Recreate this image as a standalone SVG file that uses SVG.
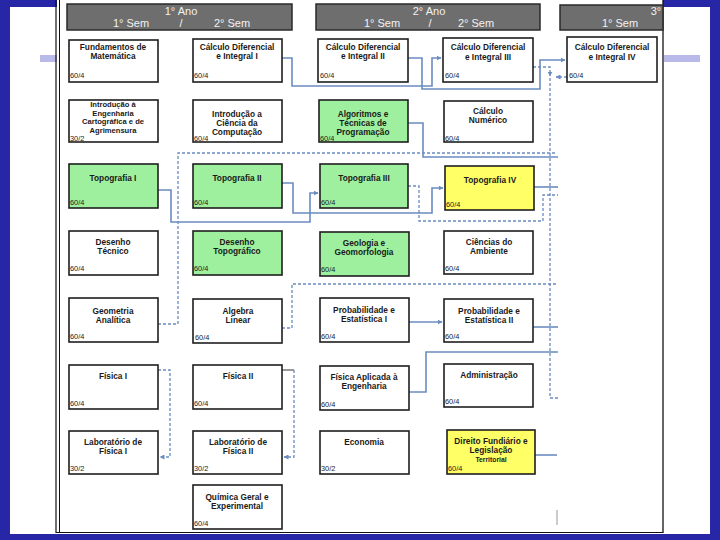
<svg xmlns="http://www.w3.org/2000/svg" width="720" height="540" viewBox="0 0 720 540">
<style>
.blue{fill:#2626a6}
.lav{fill:#b9b9ea}
.hdr rect{fill:#6e6e6e;stroke:#2a2a2a;stroke-width:1.5}
.hdr text{font-family:"Liberation Sans",Arial,sans-serif;font-size:11px;fill:#f2f2f2;text-anchor:middle}
.n rect{stroke:#1e1e1e;stroke-width:1.6}
.w{fill:#ffffff}
.g{fill:#9ef09e}
.y{fill:#ffff66}
.n text{font-family:"Liberation Sans",Arial,sans-serif;font-size:8.3px;font-weight:bold;fill:#1a1a1a;text-anchor:middle}
.n text.h{font-size:7.4px;font-weight:normal;text-anchor:start}
.n text.s{font-size:6.8px}
.n text.t{font-size:7.6px}
.c{fill:none;stroke:#6a8cc0;stroke-width:1.6}
.d{fill:none;stroke:#6a8cc0;stroke-width:1.3;stroke-dasharray:3 2}
</style>
<defs>
<marker id="ah" viewBox="0 0 10 10" refX="9" refY="5" markerWidth="5" markerHeight="5" orient="auto" markerUnits="userSpaceOnUse">
<path d="M0,0 L10,5 L0,10 z" fill="#6a8cc0"/>
</marker>
</defs>
<rect x="0" y="0" width="720" height="540" fill="#ffffff"/>
<g id="slide-frame">
<rect class="blue" x="0" y="0" width="57" height="7"/>
<rect class="blue" x="663" y="0" width="57" height="7"/>
<rect class="blue" x="0" y="0" width="10" height="540"/>
<rect class="blue" x="710" y="0" width="10" height="540"/>
<rect class="blue" x="0" y="534" width="720" height="6"/>
<rect class="lav" x="40" y="55" width="17" height="7"/>
<rect class="lav" x="664" y="55" width="36" height="7"/>
<rect x="57" y="0" width="606" height="533" fill="#ffffff"/>
<line x1="56" y1="0" x2="56" y2="533" stroke="#111" stroke-width="1.2"/>
<line x1="59.5" y1="0" x2="59.5" y2="533" stroke="#111" stroke-width="1"/>
<line x1="663" y1="0" x2="663" y2="533" stroke="#111" stroke-width="1.3"/>
<line x1="56" y1="532.5" x2="663" y2="532.5" stroke="#111" stroke-width="1"/>
</g>
<g id="hdr1" class="hdr">
<rect x="67" y="4" width="225" height="26"/>
<text x="181" y="15">1° Ano</text>
<text x="131" y="27">1° Sem</text>
<text x="181" y="27">/</text>
<text x="232" y="27">2° Sem</text>
</g>
<g id="hdr2" class="hdr">
<rect x="316" y="4" width="224" height="26"/>
<text x="429" y="15">2° Ano</text>
<text x="382" y="27">1° Sem</text>
<text x="430" y="27">/</text>
<text x="476" y="27">2° Sem</text>
</g>
<g id="hdr3" class="hdr">
<rect x="560" y="5" width="103" height="25"/>
<text x="656" y="15">3°</text>
<text x="620" y="27">1° Sem</text>
</g>
<g id="connectors">
<path class="c" d="M282,58 H292 V86 H432 V58 H441" marker-end="url(#ah)"/>
<path class="c" d="M408,58 H422 V89 H540 V60 H565" marker-end="url(#ah)"/>
<path class="c" d="M408,123 H423 V157 H558"/>
<path class="c" d="M158,190 H171 V222 H310 V193 H318" marker-end="url(#ah)"/>
<path class="c" d="M282,183 H293 V213 H432 V188 H443" marker-end="url(#ah)"/>
<path class="c" d="M534,187 H558"/>
<path class="c" d="M409,322 H442" marker-end="url(#ah)"/>
<path class="c" d="M533,327 H558"/>
<path class="c" d="M409,392 H426 V352 H558"/>
<path class="c" d="M535,455 H557"/>
<path d="M282,370 H294" fill="none" stroke="#333" stroke-width="1"/>
<path d="M557,510 V525" fill="none" stroke="#999" stroke-width="1"/>
<path class="d" d="M533,67 H550 V76" marker-end="url(#ah)"/>
<path class="d" d="M550,78 V398 H558"/>
<path class="d" d="M567,77 H556" marker-end="url(#ah)"/>
<path class="d" d="M158,324 H178 V153 H557"/>
<path class="d" d="M408,186 H419 V221 H543 V195 H558"/>
<path class="d" d="M282,328 H292 V284 H557"/>
<path class="d" d="M158,370 H170 V457 H160" marker-end="url(#ah)"/>
<path class="d" d="M294,370 V457 H284" marker-end="url(#ah)"/>
</g>
<g id="fundamentos" class="n"><rect class="w" x="69" y="40" width="89" height="42"/><text x="113" y="50">Fundamentos de</text><text x="113" y="59">Matemática</text><text class="h" x="70" y="78">60/4</text></g>
<g id="calculo1" class="n"><rect class="w" x="193" y="39" width="89" height="43"/><text x="237" y="50">Cálculo Diferencial</text><text x="237" y="59">e Integral I</text><text class="h" x="194" y="78">60/4</text></g>
<g id="calculo2" class="n"><rect class="w" x="318" y="39" width="90" height="43"/><text x="363" y="50">Cálculo Diferencial</text><text x="363" y="59">e Integral II</text><text class="h" x="320" y="78">60/4</text></g>
<g id="calculo3" class="n"><rect class="w" x="443" y="38" width="90" height="44"/><text x="488" y="50">Cálculo Diferencial</text><text x="488" y="60">e Integral III</text><text class="h" x="445" y="78">60/4</text></g>
<g id="calculo4" class="n"><rect class="w" x="567" y="37" width="90" height="45"/><text x="612" y="50">Cálculo Diferencial</text><text x="612" y="60">e Integral IV</text><text class="h" x="569" y="78">60/4</text></g>
<g id="intro-eng" class="n"><rect class="w" x="69" y="100" width="89" height="42"/><text class="t" x="113" y="107">Introdução à</text><text class="t" x="113" y="115.5">Engenharia</text><text class="t" x="113" y="124">Cartográfica e de</text><text class="t" x="113" y="132.5">Agrimensura</text><text class="h" x="70" y="140.5">30/2</text></g>
<g id="intro-comp" class="n"><rect class="w" x="193" y="100" width="89" height="42"/><text x="237" y="117">Introdução a</text><text x="237" y="126">Ciência da</text><text x="237" y="135">Computação</text><text class="h" x="194" y="141">60/4</text></g>
<g id="algoritmos" class="n"><rect class="g" x="319" y="100" width="89" height="42"/><text x="363" y="117">Algoritmos e</text><text x="363" y="126">Técnicas de</text><text x="363" y="135">Programação</text><text class="h" x="320" y="141">60/4</text></g>
<g id="calc-numerico" class="n"><rect class="w" x="444" y="101" width="89" height="41"/><text x="488" y="114">Cálculo</text><text x="488" y="123">Numérico</text><text class="h" x="445" y="141">60/4</text></g>
<g id="topo1" class="n"><rect class="g" x="69" y="164" width="89" height="44"/><text x="113" y="181">Topografia I</text><text class="h" x="70" y="205">60/4</text></g>
<g id="topo2" class="n"><rect class="g" x="193" y="164" width="89" height="44"/><text x="237" y="181">Topografia II</text><text class="h" x="194" y="205">60/4</text></g>
<g id="topo3" class="n"><rect class="g" x="320" y="164" width="88" height="44"/><text x="364" y="181">Topografia III</text><text class="h" x="321" y="205">60/4</text></g>
<g id="topo4" class="n"><rect class="y" x="445" y="166" width="89" height="44"/><text x="490" y="183">Topografia IV</text><text class="h" x="446" y="207">60/4</text></g>
<g id="des-tecnico" class="n"><rect class="w" x="69" y="231" width="89" height="44"/><text x="113" y="245">Desenho</text><text x="113" y="254">Técnico</text><text class="h" x="70" y="271">60/4</text></g>
<g id="des-topo" class="n"><rect class="g" x="193" y="231" width="89" height="44"/><text x="237" y="245">Desenho</text><text x="237" y="254">Topográfico</text><text class="h" x="194" y="271">60/4</text></g>
<g id="geologia" class="n"><rect class="g" x="320" y="232" width="89" height="44"/><text x="364" y="246">Geologia e</text><text x="364" y="255">Geomorfologia</text><text class="h" x="321" y="272">60/4</text></g>
<g id="ciencias" class="n"><rect class="w" x="444" y="231" width="89" height="43"/><text x="489" y="245">Ciências do</text><text x="489" y="254">Ambiente</text><text class="h" x="445" y="271">60/4</text></g>
<g id="geometria" class="n"><rect class="w" x="69" y="298" width="89" height="44"/><text x="113" y="314">Geometria</text><text x="113" y="323">Analítica</text><text class="h" x="70" y="339">60/4</text></g>
<g id="algebra" class="n"><rect class="w" x="193" y="299" width="89" height="44"/><text x="238" y="314">Algebra</text><text x="238" y="323">Linear</text><text class="h" x="195" y="340">60/4</text></g>
<g id="prob1" class="n"><rect class="w" x="320" y="298" width="89" height="44"/><text x="364" y="313">Probabilidade e</text><text x="364" y="322">Estatística I</text><text class="h" x="321" y="339">60/4</text></g>
<g id="prob2" class="n"><rect class="w" x="444" y="299" width="89" height="43"/><text x="489" y="314">Probabilidade e</text><text x="489" y="323">Estatística II</text><text class="h" x="445" y="339">60/4</text></g>
<g id="fisica1" class="n"><rect class="w" x="69" y="365" width="89" height="44"/><text x="113" y="379">Física I</text><text class="h" x="70" y="406">60/4</text></g>
<g id="fisica2" class="n"><rect class="w" x="193" y="365" width="89" height="44"/><text x="238" y="379">Física II</text><text class="h" x="194" y="406">60/4</text></g>
<g id="fisica-aplicada" class="n"><rect class="w" x="320" y="366" width="89" height="44"/><text x="364" y="380">Física Aplicada à</text><text x="364" y="389">Engenharia</text><text class="h" x="321" y="407">60/4</text></g>
<g id="administracao" class="n"><rect class="w" x="444" y="364" width="89" height="43"/><text x="489" y="378">Administração</text><text class="h" x="445" y="404">60/4</text></g>
<g id="lab1" class="n"><rect class="w" x="69" y="431" width="89" height="43"/><text x="113" y="445">Laboratório de</text><text x="113" y="454">Física I</text><text class="h" x="70" y="471">30/2</text></g>
<g id="lab2" class="n"><rect class="w" x="193" y="431" width="89" height="43"/><text x="238" y="445">Laboratório de</text><text x="238" y="454">Física II</text><text class="h" x="194" y="471">30/2</text></g>
<g id="economia" class="n"><rect class="w" x="320" y="431" width="89" height="43"/><text x="364" y="445">Economia</text><text class="h" x="321" y="471">30/2</text></g>
<g id="direito" class="n"><rect class="y" x="447" y="430" width="88" height="44"/><text x="491" y="444">Direito Fundiário e</text><text x="491" y="453">Legislação</text><text class="s" x="491" y="462">Territorial</text><text class="h" x="448" y="471">60/4</text></g>
<g id="quimica" class="n"><rect class="w" x="193" y="485" width="89" height="44"/><text x="237" y="500">Química Geral e</text><text x="237" y="509">Experimental</text><text class="h" x="194" y="526">60/4</text></g>
</svg>
